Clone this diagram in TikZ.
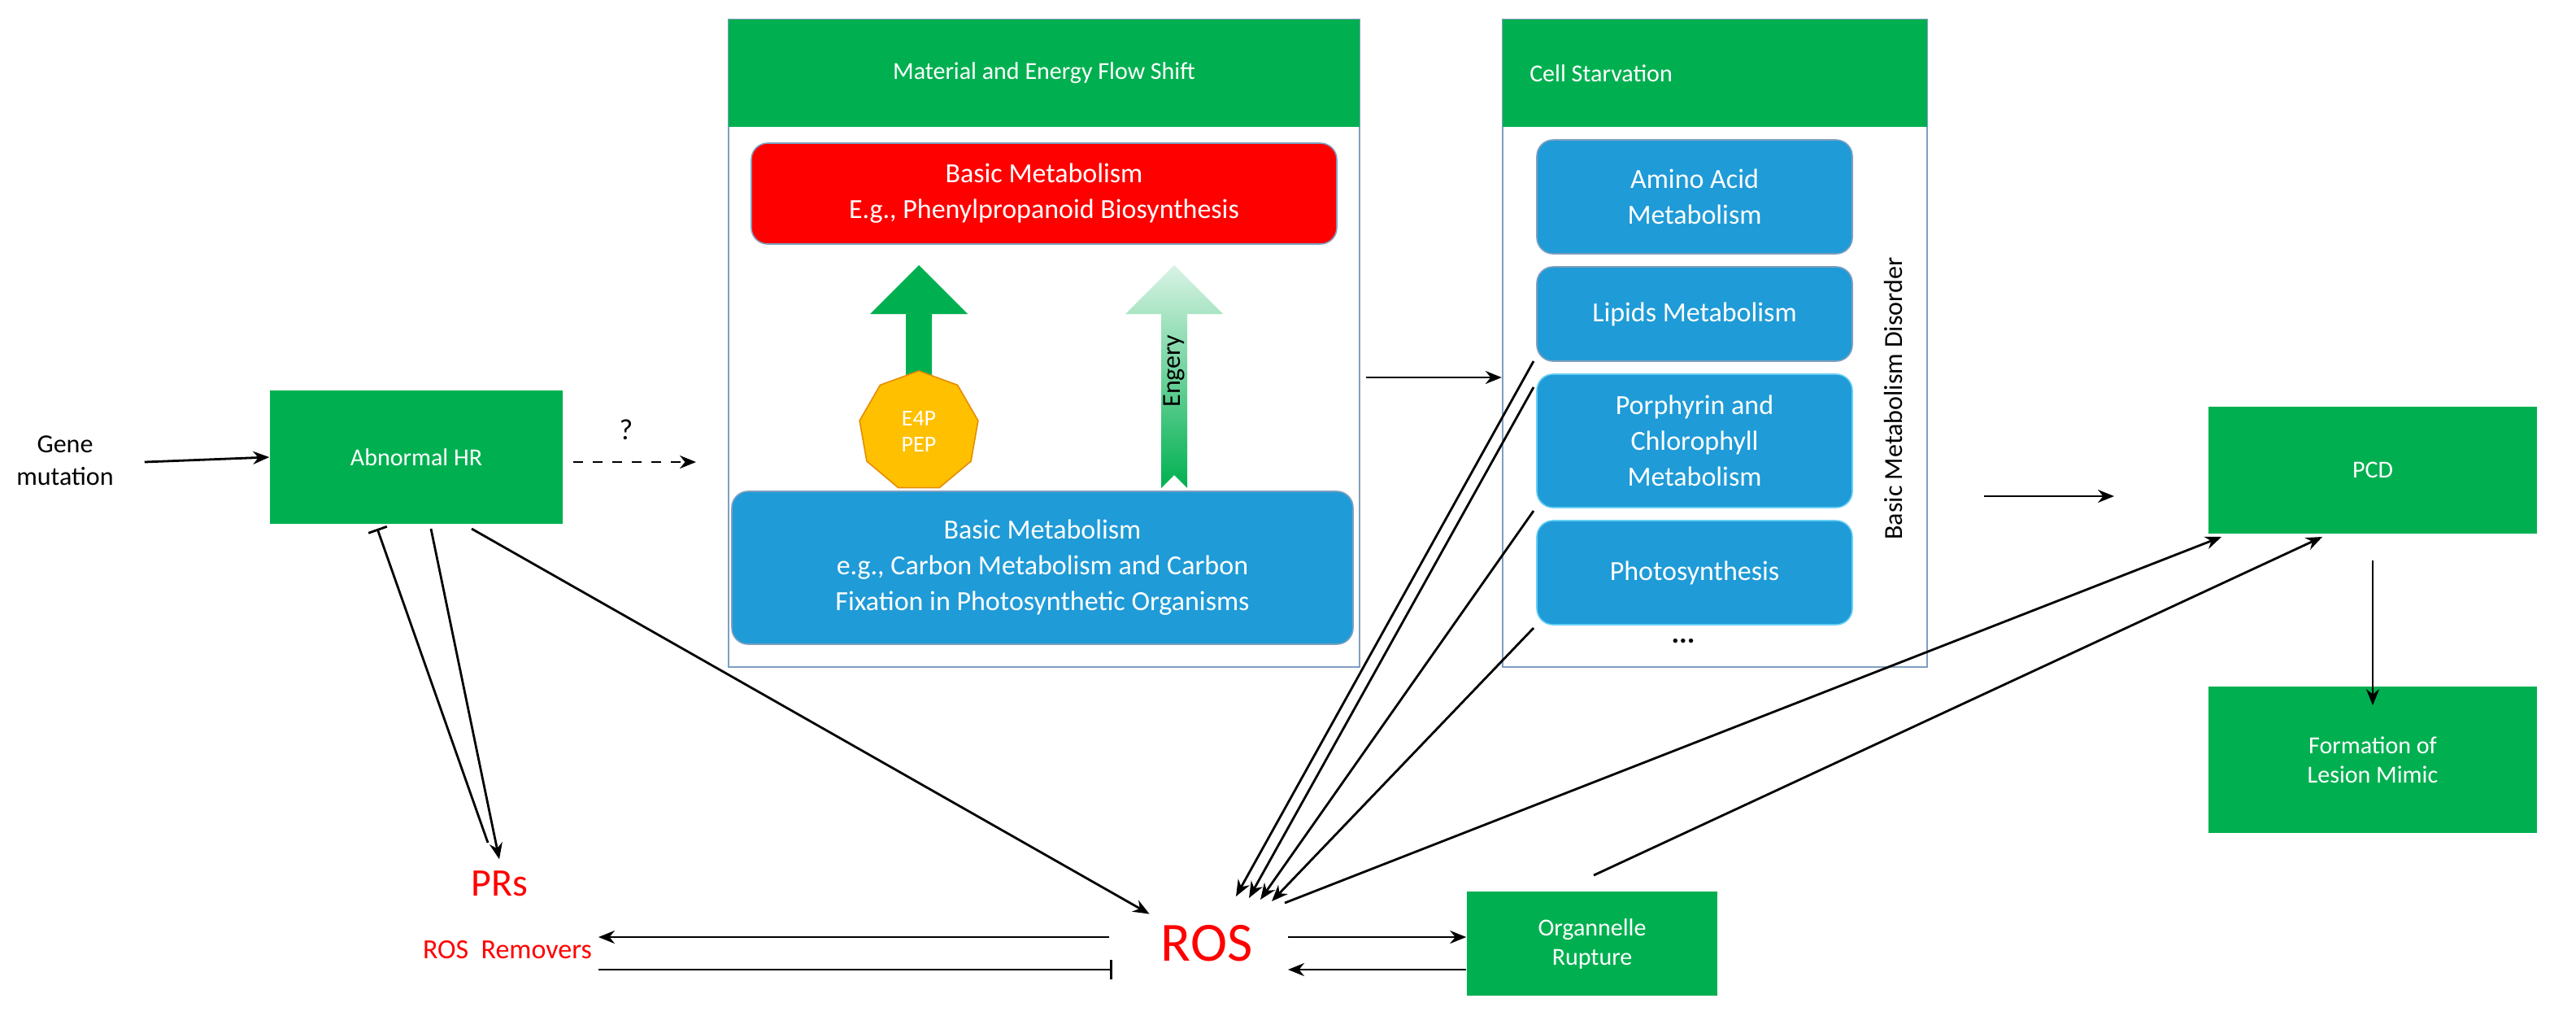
\documentclass[tikz,border=0pt]{standalone}
\usepackage{fontspec}
\setmainfont{Carlito}
\usetikzlibrary{shapes.geometric,arrows.meta}
\definecolor{gr}{HTML}{00B050}
\definecolor{bl}{HTML}{1F9BD7}
\definecolor{bd}{HTML}{7F9FBF}
\begin{document}
\begin{tikzpicture}[x=0.5pt,y=-0.5pt,
  gbox/.style={fill=gr,draw=none,text=white,font=\fontsize{7.5}{9}\selectfont,align=center,inner sep=0},
  bbox/.style={fill=bl,draw=bd,rounded corners=5pt,text=white,font=\fontsize{8.5}{11}\selectfont,align=center,inner sep=0},
  panel/.style={draw=bd,line width=0.6pt},
  arr/.style={-{Stealth[length=5pt,width=4pt]},line width=0.7pt},
  bar/.style={-{Bar[width=6pt]},line width=0.7pt}]
\useasboundingbox (0,0) rectangle (1584,632);
% left
\node (gene) at (40,284) {\fontsize{8}{10}\selectfont\begin{tabular}{c}Gene\\mutation\end{tabular}};
\node[gbox,minimum width=90pt,minimum height=41pt] (hr) at (256,281) {Abnormal HR};
\draw[arr] (gene.east) -- (hr.west);
\coordinate (dq) at (428,284);
\draw[arr,dashed] (hr.east)+(6,3) -- (dq);
\node (q) at (385,264) {\fontsize{9}{10}\selectfont ?};
% panel 1
\node[panel,minimum width=194pt,minimum height=199pt,inner sep=0] (p1) at (642,211) {};
\node[gbox,minimum width=194pt,minimum height=33pt] (h1) at (642,45) {Material and Energy Flow Shift};
\node[fill=red,draw=bd,rounded corners=5pt,text=white,font=\fontsize{8.5}{11}\selectfont,align=center,minimum width=180pt,minimum height=31pt,inner sep=0] (red) at (642,119) {Basic Metabolism\\E.g., Phenylpropanoid Biosynthesis};
\node[bbox,minimum width=191pt,minimum height=47pt] (carb) at (641,349) {Basic Metabolism\\e.g., Carbon Metabolism and Carbon\\Fixation in Photosynthetic Organisms};
\fill[gr] (557,300) -- (557,193) -- (535,193) -- (565,163) -- (595,193) -- (573,193) -- (573,300) -- (565,292) -- cycle;
\node[regular polygon,regular polygon sides=9,fill={rgb,255:red,255;green,192;blue,0},draw={rgb,255:red,230;green,140;blue,0},minimum size=37pt,inner sep=0,text=white,font=\fontsize{7}{8}\selectfont,align=center] (oct) at (565,265) {E4P\\PEP};
\shade[bottom color=gr,top color=gr!15] (714,300) -- (714,193) -- (692,193) -- (722,163) -- (752,193) -- (730,193) -- (730,300) -- (722,292) -- cycle;
\node[rotate=90,font=\fontsize{8}{9}\selectfont] (en) at (722,228) {Engery};
% panel 2
\node[panel,minimum width=130.5pt,minimum height=199pt,inner sep=0] (p2) at (1054.5,211) {};
\node[gbox,minimum width=130.5pt,minimum height=33pt] (h2) at (1054.5,45) {\hspace*{-70pt}Cell Starvation};
\draw[arr] (840,232) -- (p2.west|-840,232);
\node[bbox,minimum width=97pt,minimum height=35pt] (aa) at (1042,121) {Amino Acid\\Metabolism};
\node[bbox,minimum width=97pt,minimum height=29pt] (li) at (1042,193) {Lipids Metabolism};
\node[bbox,minimum width=97pt,minimum height=41pt,draw=cyan!60] (po) at (1042,271) {Porphyrin and\\Chlorophyll\\Metabolism};
\node[bbox,minimum width=97pt,minimum height=32pt,draw=cyan!60] (ph) at (1042,352) {Photosynthesis};
\node (dots) at (1035,394) {\fontsize{9}{10}\selectfont\bfseries ...};
\node[rotate=90,font=\fontsize{8}{9}\selectfont] (bmd) at (1164,245) {Basic Metabolism Disorder};
% right
\node[gbox,minimum width=101pt,minimum height=39pt] (pcd) at (1459,289) {PCD};
\node[gbox,minimum width=101pt,minimum height=45pt] (les) at (1459,467) {Formation of\\Lesion Mimic};
\coordinate (pa) at (1220,305); \coordinate (pb) at (1300,305);
\draw[arr] (pa) -- (pb);
\draw[arr] (pcd.south)+(0,16) -- ([yshift=-6pt]les.north);
% bottom
\node[text=red,font=\fontsize{17}{18}\selectfont] (ros) at (742,580) {ROS};
\node[text=red,font=\fontsize{12}{13}\selectfont] (prs) at (307,543) {PRs};
\node[text=red,font=\fontsize{8.5}{10}\selectfont] (rem) at (312,584) {ROS\ \ Removers};
\node[gbox,minimum width=77pt,minimum height=32pt] (org) at (979,580) {Organnelle\\Rupture};
\draw[arr] (265,325) -- (prs.north);
\draw[bar] (300,518) -- (232,325);
\draw[arr] (290,325) -- (ros.north west);
\draw[arr] (682,576) -- (368,576);
\draw[bar] (368,596) -- (684,596);
\draw[arr] (792,576) -- (org.west|-0,576);
\draw[arr] (org.west|-0,596) -- (792,596);
\draw[arr] (943,222) -- (760,551);
\draw[arr] (943,238) -- (768,552);
\draw[arr] (943,314) -- (775,553);
\draw[arr] (943,386) -- (782,554);
\draw[arr] (790,555) -- (1366,330);
\draw[arr] (980,538) -- (1428,330);
\end{tikzpicture}
\end{document}
